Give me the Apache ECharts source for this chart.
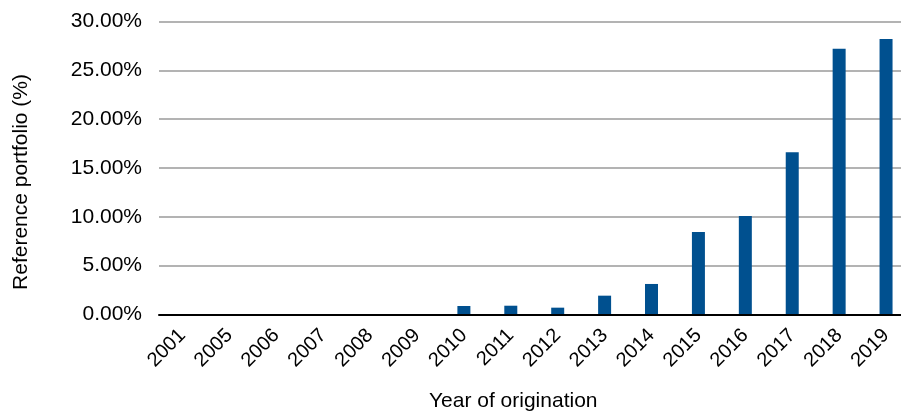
<!DOCTYPE html>
<html>
<head>
<meta charset="utf-8">
<script src="https://cdn.jsdelivr.net/npm/echarts@6/dist/echarts.min.js"></script>
<style>
html,body{margin:0;padding:0;background:#fff;}
#chart{width:901px;height:413px;}
</style>
</head>
<body>
<div id="chart"></div>
<script>
const categories = ['2001','2005','2006','2007','2008','2009','2010','2011','2012','2013','2014','2015','2016','2017','2018','2019'];
const shareValues = [0, 0, 0, 0, 0, 0, 0.85, 0.88, 0.68, 1.91, 3.11, 8.44, 10.08, 16.61, 27.23, 28.23];
const yTicks = [0, 5, 10, 15, 20, 25, 30];
const yTitle = 'Reference portfolio (%)';
const xTitle = 'Year of origination';

const chart = echarts.init(document.getElementById('chart'), null, {renderer: 'canvas'});
const font = 'Liberation Sans, Arial, sans-serif';
chart.setOption({
  animation: false,
  backgroundColor: '#ffffff',
  grid: {left: 159, top: 21.7, width: 750.5, height: 292.6, containLabel: false, outerBoundsMode: 'none'},
  xAxis: {
    type: 'category',
    data: categories,
    z: 10,
    axisLine: {show: true, lineStyle: {color: '#000', width: 2}},
    axisTick: {show: false},
    axisLabel: {rotate: 45, margin: 18, color: '#000', fontSize: 20, fontFamily: font, interval: 0},
    name: xTitle,
    nameLocation: 'middle',
    nameGap: 76,
    nameTextStyle: {color: '#000', fontSize: 21, fontFamily: font, padding: [0, 42, 0, 0]}
  },
  yAxis: {
    type: 'value',
    min: yTicks[0],
    max: yTicks[yTicks.length - 1],
    interval: yTicks[1] - yTicks[0],
    axisLine: {show: false},
    axisTick: {show: false},
    splitLine: {show: true, lineStyle: {color: '#9a9a9a', width: 1.5}},
    axisLabel: {margin: 17, color: '#000', fontSize: 21, fontFamily: font, formatter: v => v.toFixed(2) + '%'},
    name: yTitle,
    nameLocation: 'middle',
    nameRotate: 90,
    nameGap: 127,
    nameTextStyle: {color: '#000', fontSize: 21, fontFamily: font, padding: [0, 28, 0, 0]}
  },
  series: [{
    type: 'bar',
    data: shareValues,
    barWidth: 13,
    itemStyle: {color: '#00508f'}
  }]
});
</script>
</body>
</html>
